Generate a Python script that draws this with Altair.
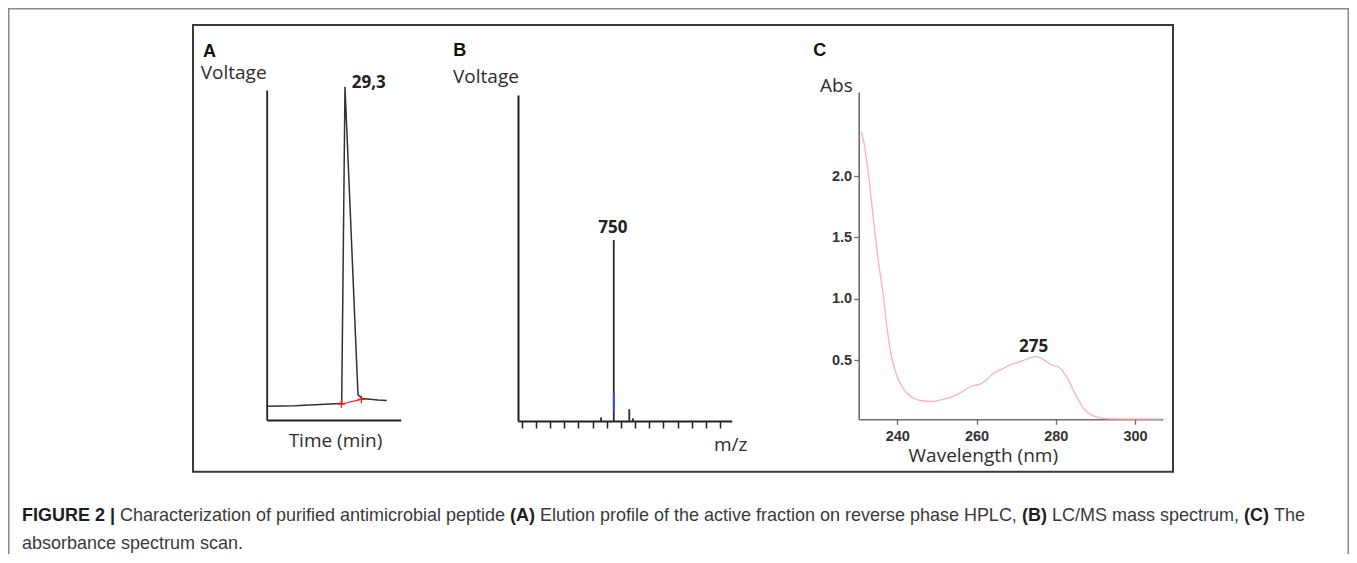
import altair as alt
import pandas as pd

W, H = 1341, 546

# ---------------- Panel A : HPLC elution profile ----------------
a_time = [0.0, 4.97, 10.58, 16.19, 21.8, 27.4, 28.04, 29.27, 34.13, 35.6, 38.6, 41.6, 44.9]
a_volt = [4.15, 4.24, 4.3, 4.55, 4.76, 5.0, 5.0, 101.0, 7.6, 6.5, 6.3, 6.06, 5.9]
a_mark_time = [27.95, 35.4]
a_mark_volt = [4.85, 6.27]
a_peak_time = [29.27]
a_peak_volt = [101.0]
a_peak_label = ["29,3"]

# ---------------- Panel B : LC/MS spectrum ----------------
b_mz = [732, 750, 771.9, 777]
b_int = [1.1, 55.5, 3.6, 0.8]
b_blue_mz = [750]
b_blue_lo = [3.3]
b_blue_hi = [8.5]
b_ticks = list(range(620, 901, 20))
b_label_mz = [750]
b_label_int = [55.5]
b_label = ["750"]

# ---------------- Panel C : absorbance spectrum ----------------
c_wl = [230.9, 231.6, 232.7, 233.9, 235.2, 236.5, 237.5, 238.4, 239.4, 240.7, 242.4,
        244.0, 246.2, 249.1, 251.6, 254.6, 257.1, 258.8, 260.9, 262.6, 264.2, 266.3,
        268.4, 271.0, 273.1, 274.8, 276.0, 277.7, 279.0, 280.6, 281.9, 283.2, 284.4,
        285.7, 287.0, 288.6, 290.7, 293.3, 299.6, 306.7]
c_abs = [2.36, 2.27, 2.02, 1.67, 1.31, 1.02, 0.74, 0.55, 0.42, 0.31, 0.233,
         0.19, 0.168, 0.163, 0.18, 0.21, 0.255, 0.288, 0.304, 0.342, 0.39, 0.424,
         0.459, 0.486, 0.513, 0.527, 0.519, 0.486, 0.459, 0.445, 0.404, 0.337, 0.255,
         0.174, 0.106, 0.06, 0.033, 0.021, 0.019, 0.019]
c_xticks = [240, 260, 280, 300]
c_yticks = [0.5, 1.0, 1.5, 2.0]
c_peak_wl = [274.8]
c_peak_abs = [0.527]
c_peak_label = ["275"]

# ---------------- Caption ----------------
caption_line1 = [
    ("FIGURE 2 |", True),
    ("Characterization of purified antimicrobial peptide", False),
    ("(A)", True),
    ("Elution profile of the active fraction on reverse phase HPLC,", False),
    ("(B)", True),
    ("LC/MS mass spectrum,", False),
    ("(C)", True),
    ("The", False),
]
caption_line2 = "absorbance spectrum scan."

# Arial / Liberation Sans advance widths (1/1000 em)
REG = dict(zip("abcdefghijklmnopqrstuvwxyz",
               [556, 556, 500, 556, 556, 278, 556, 556, 222, 222, 500, 222, 833,
                556, 556, 556, 556, 333, 500, 278, 556, 500, 722, 500, 500, 500]))
REG.update({"A": 667, "B": 667, "C": 722, "E": 667, "H": 722, "L": 556, "M": 833,
            "P": 667, "S": 667, "T": 611, " ": 278, ",": 278, ".": 278, "/": 278,
            "(": 333, ")": 333})
BOLD = {"F": 611, "I": 278, "G": 778, "U": 722, "R": 722, "E": 667, "2": 556,
        " ": 278, "|": 280, "(": 333, ")": 333, "A": 722, "B": 722, "C": 722}


def em(s, table):
    return sum(table[c] for c in s) / 1000.0


total_em = sum(em(t, BOLD if b else REG) for t, b in caption_line1) + 0.278 * (len(caption_line1) - 1)
cap_size = (1305 - 22) / total_em

one = pd.DataFrame({"k": [0]})
SANS = "Open Sans"
CAPF = "Liberation Sans, Arial, sans-serif"


def label(text, x, y, size=19, weight="normal", align="left", font=SANS, color="#2d2d2d"):
    return alt.Chart(one).mark_text(text=text, font=font, fontSize=size, fontWeight=weight,
                                    align=align, baseline="alphabetic", color=color).encode(
        x=alt.value(x), y=alt.value(y))


# ---- frames ----
frame_col = "#8a8a8a"
frame = [
    alt.Chart(one).mark_rule(color=frame_col, strokeWidth=1.5).encode(
        x=alt.value(0.75), y=alt.value(0), y2=alt.value(H)),
    alt.Chart(one).mark_rule(color=frame_col, strokeWidth=1.5).encode(
        x=alt.value(W - 0.75), y=alt.value(0), y2=alt.value(H)),
    alt.Chart(one).mark_rule(color=frame_col, strokeWidth=1.5).encode(
        x=alt.value(0), x2=alt.value(W), y=alt.value(0.75)),
    alt.Chart(one).mark_rect(fill="white", fillOpacity=0, stroke="#3a3a3a", strokeWidth=2).encode(
        x=alt.value(185), x2=alt.value(1165), y=alt.value(17), y2=alt.value(463.7)),
]

# ---- Panel A ----
dfA = pd.DataFrame({"t": a_time, "v": a_volt})
dfAm = pd.DataFrame({"t": a_mark_time, "v": a_mark_volt})
dfAp = pd.DataFrame({"t": a_peak_time, "v": a_peak_volt, "lab": a_peak_label})
ax_x = alt.X("t:Q", scale=alt.Scale(domain=[0, 50.1], range=[258.7, 392.7], nice=False, zero=False),
             axis=alt.Axis(orient="bottom", offset=412 - H, ticks=False, labels=False, title=None,
                           grid=False, domainColor="#222", domainWidth=1.8))
ax_y = alt.Y("v:Q", scale=alt.Scale(domain=[0, 100], range=[412, 82], nice=False, zero=False),
             axis=alt.Axis(orient="left", offset=-258.7, ticks=False, labels=False, title=None,
                           grid=False, domainColor="#222", domainWidth=1.8))
panelA = alt.layer(
    alt.Chart(dfA).mark_line(color="#333333", strokeWidth=1.5).encode(x=ax_x, y=ax_y, order="t:Q"),
    alt.Chart(dfAm).mark_line(color="#ff1a1a", strokeWidth=1.2).encode(x="t:Q", y="v:Q"),
    alt.Chart(dfAm).mark_point(shape="M-1,0L1,0M0,-1L0,1", size=60, color="#ff1a1a",
                               strokeWidth=1.3, filled=False, opacity=1).encode(x="t:Q", y="v:Q"),
    alt.Chart(dfAp).mark_text(font=SANS, fontSize=17, fontWeight="bold", align="left",
                              baseline="alphabetic", dx=6.7, dy=1, color="#222").encode(
        x="t:Q", y="v:Q", text="lab:N"),
)

# ---- Panel B ----
dfB = pd.DataFrame({"mz": b_mz, "i": b_int})
dfBb = pd.DataFrame({"mz": b_blue_mz, "lo": b_blue_lo, "hi": b_blue_hi})
dfBl = pd.DataFrame({"mz": b_label_mz, "i": b_label_int, "lab": b_label})
bx = alt.X("mz:Q", scale=alt.Scale(domain=[614.8, 916.5], range=[510, 723.7], nice=False, zero=False),
           axis=alt.Axis(orient="bottom", offset=413 - H, values=b_ticks, labels=False, title=None,
                         grid=False, domainColor="#222", domainWidth=2, tickColor="#222",
                         tickWidth=1.5, tickSize=7))
by = alt.Y("i:Q", scale=alt.Scale(domain=[0, 100], range=[413, 87], nice=False, zero=False),
           axis=alt.Axis(orient="left", offset=-510, ticks=False, labels=False, title=None,
                         grid=False, domainColor="#222", domainWidth=2))
panelB = alt.layer(
    alt.Chart(dfB).mark_rule(color="#2a2a2a", strokeWidth=1.8).encode(x=bx, y=by, y2=alt.datum(0)),
    alt.Chart(dfBb).mark_rule(color="#3b46ff", strokeWidth=1.8).encode(
        x="mz:Q", y=alt.Y("lo:Q"), y2="hi:Q"),
    alt.Chart(dfBl).mark_text(font=SANS, fontSize=17, fontWeight="bold", align="center",
                              baseline="alphabetic", dx=-1, dy=-7.3, color="#222").encode(
        x="mz:Q", y="i:Q", text="lab:N"),
)

# ---- Panel C ----
dfC = pd.DataFrame({"wl": c_wl, "a": c_abs})
dfCl = pd.DataFrame({"wl": c_peak_wl, "a": c_peak_abs, "lab": c_peak_label})
cx = alt.X("wl:Q", scale=alt.Scale(domain=[230.26, 306.99], range=[850.7, 1154.7], nice=False, zero=False),
           axis=alt.Axis(orient="bottom", offset=411.3 - H, values=c_xticks, title=None, grid=False,
                         domainColor="#6e6e6e", domainWidth=1.6, tickColor="#6e6e6e", tickWidth=1.3,
                         tickSize=5, labelFont=CAPF, labelFontSize=14.5, labelFontWeight="bold",
                         labelColor="#333", labelPadding=5))
cy = alt.Y("a:Q", scale=alt.Scale(domain=[0.0166, 2.685], range=[411.3, 84], nice=False, zero=False),
           axis=alt.Axis(orient="left", offset=-850.7, values=c_yticks, format=".1f", title=None,
                         grid=False, domainColor="#6e6e6e", domainWidth=1.6, tickColor="#6e6e6e",
                         tickWidth=1.3, tickSize=5, labelFont=CAPF, labelFontSize=14.5,
                         labelFontWeight="bold", labelColor="#333", labelPadding=2))
panelC = alt.layer(
    alt.Chart(dfC).mark_line(color="#f8b3b3", strokeWidth=1.3, interpolate="monotone").encode(
        x=cx, y=cy, order="wl:Q"),
    alt.Chart(dfCl).mark_text(font=SANS, fontSize=17, fontWeight="bold", align="center",
                              baseline="alphabetic", dx=-1.5, dy=-5, color="#222").encode(
        x="wl:Q", y="a:Q", text="lab:N"),
)

# ---- text labels ----
texts = [
    label("A", 195, 49, size=18, weight="bold", font=CAPF, color="#111"),
    label("B", 445.3, 48, size=18, weight="bold", font=CAPF, color="#111"),
    label("C", 805.3, 48, size=18, weight="bold", font=CAPF, color="#111"),
    label("Voltage", 192.7, 71.3),
    label("Voltage", 445, 75.3),
    label("Time (min)", 327.5, 438.7, align="center"),
    label("m/z", 706, 442.7),
    label("Abs", 812, 83.7),
    label("Wavelength (nm)", 975.3, 453.7, align="center"),
]

# ---- caption ----
cap = []
xpos = 14.0
for txt, bold in caption_line1:
    cap.append(label(txt, xpos, 513, size=cap_size, weight="bold" if bold else "normal",
                     font=CAPF, color="#1e1e1e" if bold else "#3a3a3a"))
    xpos += (em(txt, BOLD if bold else REG) + 0.278) * cap_size
cap.append(label(caption_line2, 14, 541, size=cap_size, font=CAPF, color="#3a3a3a"))

chart = alt.layer(*frame, panelA, panelB, panelC, *texts, *cap).resolve_scale(
    x="independent", y="independent"
).properties(
    width=W, height=H, autosize="none", padding=0
).configure_view(stroke=None)

chart.save("out.html", embed_options={"renderer": "svg", "actions": False})
